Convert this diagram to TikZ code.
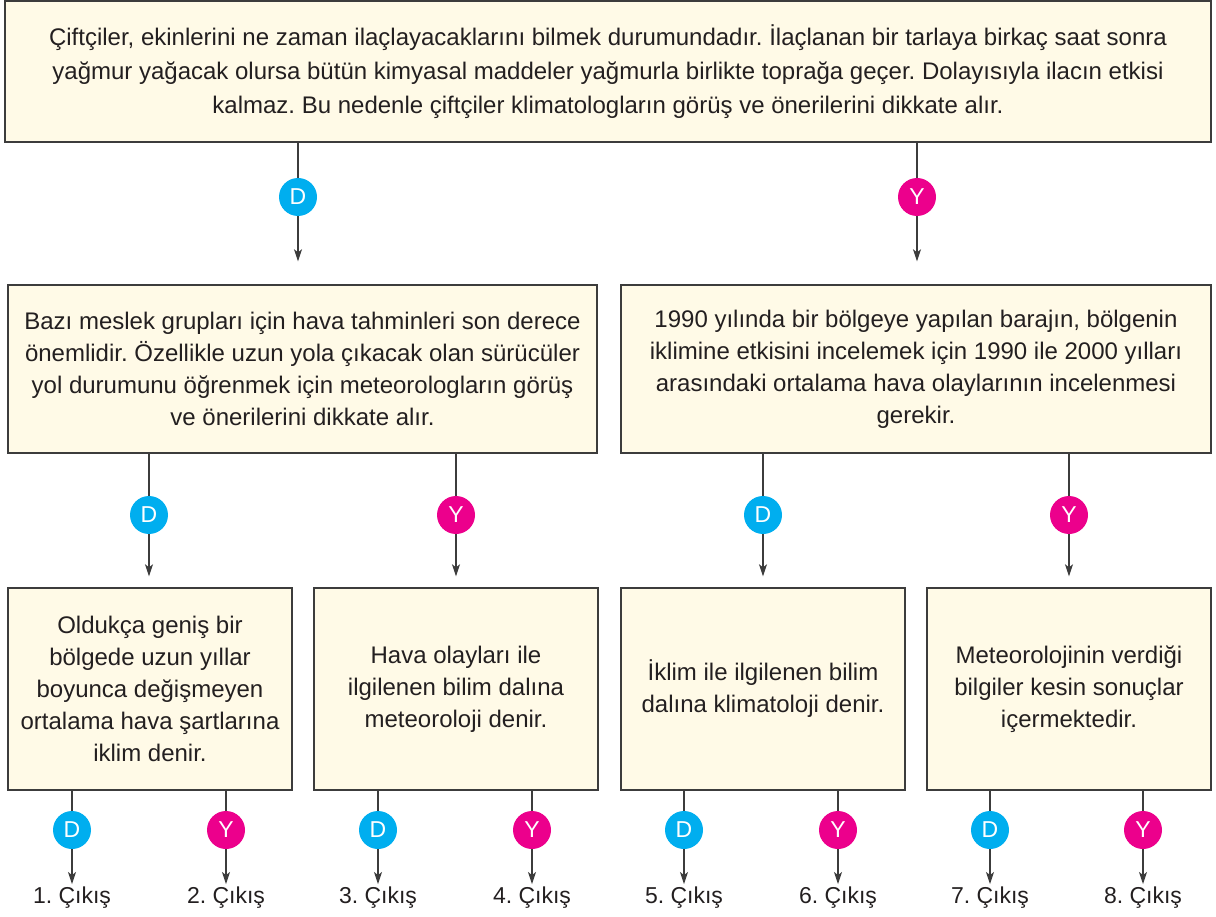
\documentclass[tikz,border=0pt]{standalone}
\usepackage{fontspec}
\setmainfont{Liberation Sans}
\usetikzlibrary{arrows.meta,positioning}
\definecolor{boxfill}{RGB}{255,250,231}
\definecolor{boxline}{RGB}{60,60,60}
\definecolor{dcol}{RGB}{0,174,239}
\definecolor{ycol}{RGB}{236,0,140}
\definecolor{txt}{RGB}{35,31,32}
\frenchspacing
\tikzset{
    textbox/.style={
           rectangle,
           draw=boxline, line width=1.4pt,
           fill=boxfill,
           inner sep=0pt,
           align=center,
           text=txt,
           font=\fontsize{24}{32}\selectfont,
           },
    dbubble/.style={
           circle,
           fill=dcol,
           minimum size=38pt,
           inner sep=0pt,
           text=white,
           font=\fontsize{23}{23}\selectfont,
           },
    ybubble/.style={dbubble, fill=ycol},
    exit/.style={text=txt, inner sep=0pt, font=\fontsize{23}{23}\selectfont},
    link/.style={draw=boxline, line width=1.2pt},
}

\begin{document}
\begin{tikzpicture}[x=1pt,y=-1pt,>={Stealth[length=12pt,width=8pt,inset=3pt]}]
 \useasboundingbox (0,0) rectangle (1216,917);
 % first question
 \node[textbox, minimum width=1206pt, minimum height=141pt,
 font=\fontsize{24}{34}\selectfont] (Q1) at (608,71.5)
 {%
  Çiftçiler, ekinlerini ne zaman ilaçlayacaklarını bilmek durumundadır. İlaçlanan bir tarlaya birkaç saat sonra\\
  yağmur yağacak olursa bütün kimyasal maddeler yağmurla birlikte toprağa geçer. Dolayısıyla ilacın etkisi\\
  kalmaz. Bu nedenle çiftçiler klimatologların görüş ve önerilerini dikkate alır.
 };
 % second row
 \node[textbox, minimum width=589pt, minimum height=168pt] (Q2) at (302.5,369)
 {%
  Bazı meslek grupları için hava tahminleri son derece\\
  önemlidir. Özellikle uzun yola çıkacak olan sürücüler\\
  yol durumunu öğrenmek için meteorologların görüş\\
  ve önerilerini dikkate alır.
 };
 \node[textbox, minimum width=590pt, minimum height=168pt] (Q3) at (916,369)
 {%
  1990 yılında bir bölgeye yapılan barajın, bölgenin\\
  iklimine etkisini incelemek için 1990 ile 2000 yılları\\
  arasındaki ortalama hava olaylarının incelenmesi\\
  gerekir.
 };
 % third row
 \node[textbox, minimum width=284pt, minimum height=202pt] (Q4) at (150,689)
 {%
  Oldukça geniş bir\\
  bölgede uzun yıllar\\
  boyunca değişmeyen\\
  ortalama hava şartlarına\\
  iklim denir.
 };
 \node[textbox, minimum width=284pt, minimum height=202pt] (Q5) at (456,689)
 {%
  Hava olayları ile\\
  ilgilenen bilim dalına\\
  meteoroloji denir.
 };
 \node[textbox, minimum width=284pt, minimum height=202pt] (Q6) at (763,689)
 {%
  İklim ile ilgilenen bilim\\
  dalına klimatoloji denir.
 };
 \node[textbox, minimum width=284pt, minimum height=202pt] (Q7) at (1069,689)
 {%
  Meteorolojinin verdiği\\
  bilgiler kesin sonuçlar\\
  içermektedir.
 };

 % answers after Q1
 \node[dbubble] (Q1D) at (298,197) {D};
 \node[ybubble] (Q1Y) at (917,197) {Y};
 \draw[link] (Q1.south -| Q1D) -- (Q1D);
 \draw[link,->,shorten >=23pt] (Q1D) -- (Q1D |- Q2.north);
 \draw[link] (Q1.south -| Q1Y) -- (Q1Y);
 \draw[link,->,shorten >=23pt] (Q1Y) -- (Q1Y |- Q3.north);

 % answers after Q2 and Q3
 \node[dbubble] (Q2D) at (149,515) {D};
 \node[ybubble] (Q2Y) at (456,515) {Y};
 \node[dbubble] (Q3D) at (763,515) {D};
 \node[ybubble] (Q3Y) at (1069,515) {Y};
 \draw[link] (Q2.south -| Q2D) -- (Q2D);
 \draw[link,->,shorten >=11pt] (Q2D) -- (Q2D |- Q4.north);
 \draw[link] (Q2.south -| Q2Y) -- (Q2Y);
 \draw[link,->,shorten >=11pt] (Q2Y) -- (Q2Y |- Q5.north);
 \draw[link] (Q3.south -| Q3D) -- (Q3D);
 \draw[link,->,shorten >=11pt] (Q3D) -- (Q3D |- Q6.north);
 \draw[link] (Q3.south -| Q3Y) -- (Q3Y);
 \draw[link,->,shorten >=11pt] (Q3Y) -- (Q3Y |- Q7.north);

 % exits
 \node[dbubble] (Q4D) at (72,830) {D};
 \node[ybubble] (Q4Y) at (226,830) {Y};
 \node[dbubble] (Q5D) at (378,830) {D};
 \node[ybubble] (Q5Y) at (532,830) {Y};
 \node[dbubble] (Q6D) at (684,830) {D};
 \node[ybubble] (Q6Y) at (838,830) {Y};
 \node[dbubble] (Q7D) at (990,830) {D};
 \node[ybubble] (Q7Y) at (1143,830) {Y};
 \node[exit] (E1) at (72,898) {1. Çıkış};
 \node[exit] (E2) at (226,898) {2. Çıkış};
 \node[exit] (E3) at (378,898) {3. Çıkış};
 \node[exit] (E4) at (532,898) {4. Çıkış};
 \node[exit] (E5) at (684,898) {5. Çıkış};
 \node[exit] (E6) at (838,898) {6. Çıkış};
 \node[exit] (E7) at (990,898) {7. Çıkış};
 \node[exit] (E8) at (1143,898) {8. Çıkış};
 \draw[link] (Q4.south -| Q4D) -- (Q4D);
 \draw[link] (Q4.south -| Q4Y) -- (Q4Y);
 \draw[link] (Q5.south -| Q5D) -- (Q5D);
 \draw[link] (Q5.south -| Q5Y) -- (Q5Y);
 \draw[link] (Q6.south -| Q6D) -- (Q6D);
 \draw[link] (Q6.south -| Q6Y) -- (Q6Y);
 \draw[link] (Q7.south -| Q7D) -- (Q7D);
 \draw[link] (Q7.south -| Q7Y) -- (Q7Y);
 \draw[link,->,shorten >=3pt] (Q4D) -- (E1.north);
 \draw[link,->,shorten >=3pt] (Q4Y) -- (E2.north);
 \draw[link,->,shorten >=3pt] (Q5D) -- (E3.north);
 \draw[link,->,shorten >=3pt] (Q5Y) -- (E4.north);
 \draw[link,->,shorten >=3pt] (Q6D) -- (E5.north);
 \draw[link,->,shorten >=3pt] (Q6Y) -- (E6.north);
 \draw[link,->,shorten >=3pt] (Q7D) -- (E7.north);
 \draw[link,->,shorten >=3pt] (Q7Y) -- (E8.north);
\end{tikzpicture}
\end{document}
